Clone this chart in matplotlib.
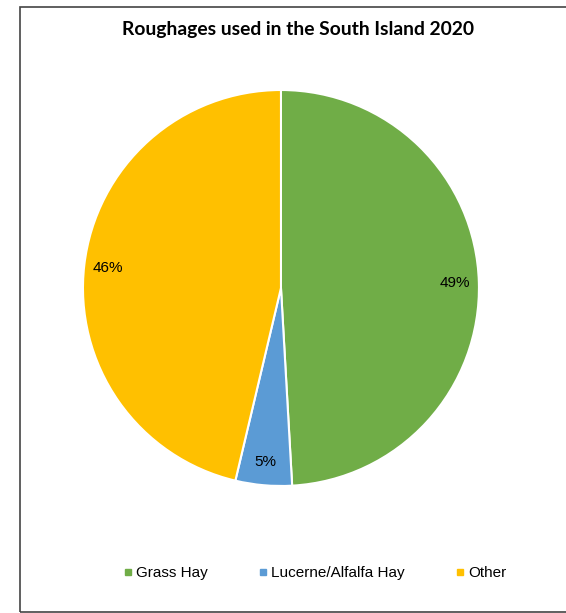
import matplotlib
matplotlib.use('Agg')
from matplotlib import pyplot as plt
from matplotlib.lines import Line2D

labels = ['Grass Hay', 'Lucerne/Alfalfa Hay', 'Other']
values = [49.1, 4.6, 46.3]      # shares in percent
colors = ['#70AD47', '#5B9BD5', '#FFC000']

fig = plt.figure(figsize=(5.66, 6.13), dpi=100)

# chart area border
fig.add_artist(plt.Rectangle((19.5 / 566, 1.5 / 613), 0.99, 604.5 / 613,
                             transform=fig.transFigure, fill=False,
                             edgecolor='#444444', linewidth=1.2))

ax = fig.add_axes([0.1466, 0.2072, 0.6996, 0.646])
wedges, texts, autotexts = ax.pie(values, colors=colors, startangle=90, counterclock=False,
                                  autopct='%1.0f%%', pctdistance=0.88,
                                  wedgeprops=dict(edgecolor='white', linewidth=1.5),
                                  textprops=dict(family='Liberation Sans', fontsize=11, color='black'))
ax.set_xlim(-1, 1)
ax.set_ylim(-1, 1)
ax.set_aspect('equal')

fig.text(0.5265, 1 - 30 / 613, 'Roughages used in the South Island 2020',
         ha='center', va='center', fontsize=13.9, fontweight='bold', family='Lato')

handles = [Line2D([], [], marker='s', linestyle='', markersize=5,
                  markerfacecolor=c, markeredgecolor=c) for c in colors]
fig.legend(handles, labels, loc='center', bbox_to_anchor=(0.557, 1 - 573 / 613),
           ncol=3, frameon=False, handlelength=0.5, handletextpad=0.3,
           columnspacing=3.35, prop=dict(family='Liberation Sans', size=11))

fig.savefig('out.png', dpi=100)
